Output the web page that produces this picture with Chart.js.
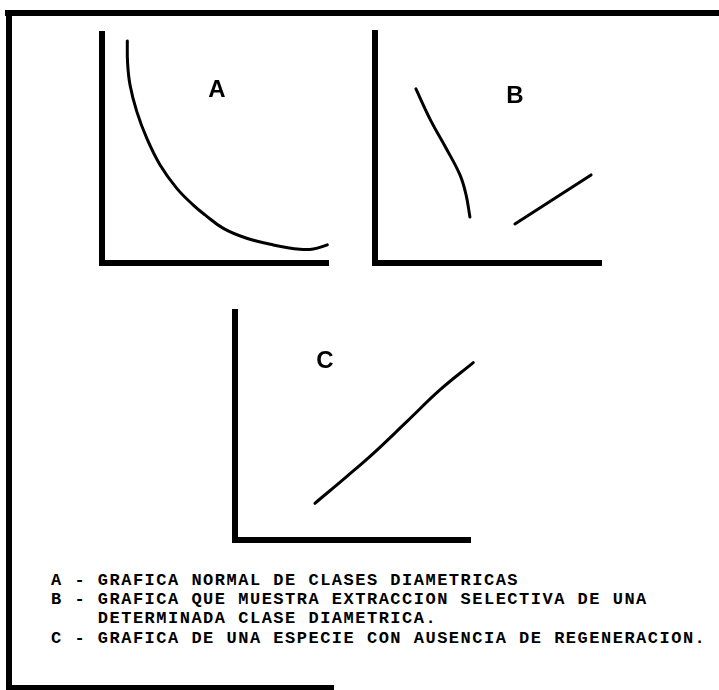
<!DOCTYPE html>
<html>
<head>
<meta charset="utf-8">
<script src="https://cdn.jsdelivr.net/npm/chart.js@4"></script>
<style>
  html, body { margin: 0; padding: 0; background: #fff; }
  body { width: 719px; height: 690px; position: relative; overflow: hidden; }
  .rule { position: absolute; background: #000; }
  .box { position: absolute; }
  .tag {
    position: absolute; transform: translate(-50%, -50%);
    font: bold 24px "Liberation Sans", Arial, sans-serif; line-height: 24px; color: #000;
  }
  .cap {
    position: absolute; left: 51px; white-space: pre;
    font: bold 17px "Liberation Mono", "DejaVu Sans Mono", monospace;
    letter-spacing: 1.5px; line-height: 20px; color: #000;
  }
</style>
</head>
<body>
<div class="rule" style="left:5px;top:10px;width:714px;height:6px"></div>
<div class="rule" style="left:6px;top:10px;width:6px;height:680px"></div>
<div class="rule" style="left:6px;top:685px;width:328px;height:5px"></div>

<div class="box" id="boxA"><canvas id="chartA"></canvas></div>
<div class="box" id="boxB"><canvas id="chartB"></canvas></div>
<div class="box" id="boxC"><canvas id="chartC"></canvas></div>

<div class="tag" style="left:217px;top:89px">A</div>
<div class="tag" style="left:515px;top:95px">B</div>
<div class="tag" style="left:325px;top:360px">C</div>

<div class="cap" style="top:571px">A - GRAFICA NORMAL DE CLASES DIAMETRICAS</div>
<div class="cap" style="top:590px">B - GRAFICA QUE MUESTRA EXTRACCION SELECTIVA DE UNA</div>
<div class="cap" style="top:609px">    DETERMINADA CLASE DIAMETRICA.</div>
<div class="cap" style="top:629px">C - GRAFICA DE UNA ESPECIE CON AUSENCIA DE REGENERACION.</div>

<script>
// A: normal diameter-class curve (reverse J)
const aX = [11.2, 11.3, 12.4, 15.4, 19.8, 25.7, 33.1, 40.4, 45.6, 53.7, 64.0, 75.8, 87.6, 93.5, 99.7];
const aY = [96.9, 87.8, 77.7, 66.1, 54.5, 42.8, 32.6, 25.3, 21.0, 15.1, 10.8, 7.9, 6.0, 6.1, 7.9];

// B: selective extraction, two broken pieces
const b1X = [18.1, 24.8, 31.4, 37.6, 40.3, 42.0];
const b1Y = [75.7, 61.7, 50.0, 38.3, 29.6, 20.0];
const b2X = [61.9, 95.6];
const b2Y = [17.0, 38.3];

// C: no regeneration
const cX = [34.0, 47.5, 58.9, 73.1, 87.2, 101.4];
const cY = [16.1, 27.8, 38.0, 51.9, 65.8, 77.8];

const PAD = 6;

function pts(xs, ys){
  return xs.map((x, i) => ({ x, y: ys[i] }));
}

function place(id, left, top, w, h){
  const el = document.getElementById(id);
  el.style.left = (left - PAD) + "px";
  el.style.top = (top - PAD) + "px";
  el.style.width = (w + 2 * PAD) + "px";
  el.style.height = (h + 2 * PAD) + "px";
}

function axis(){
  return {
    type: "linear", min: 0, max: 100,
    ticks: { display: false },
    grid: { display: false, drawTicks: false },
    border: { display: true, color: "#000", width: 6 }
  };
}

function draw(canvasId, series){
  const datasets = series.map(s => ({
    data: s, borderColor: "#000", borderWidth: 3, tension: 0.4,
    borderCapStyle: "round", borderJoinStyle: "round",
    fill: false, pointRadius: 0, clip: false
  }));
  new Chart(document.getElementById(canvasId), {
    type: "line",
    data: { datasets },
    options: {
      responsive: true, maintainAspectRatio: false, animation: false,
      layout: { padding: PAD },
      plugins: { legend: { display: false }, tooltip: { enabled: false } },
      scales: { x: axis(), y: axis() }
    }
  });
}

place("boxA", 102, 34, 226, 229);
place("boxB", 375, 33, 226, 230);
place("boxC", 235, 312, 235, 228);

draw("chartA", [pts(aX, aY)]);
draw("chartB", [pts(b1X, b1Y), pts(b2X, b2Y)]);
draw("chartC", [pts(cX, cY)]);
</script>
</body>
</html>
